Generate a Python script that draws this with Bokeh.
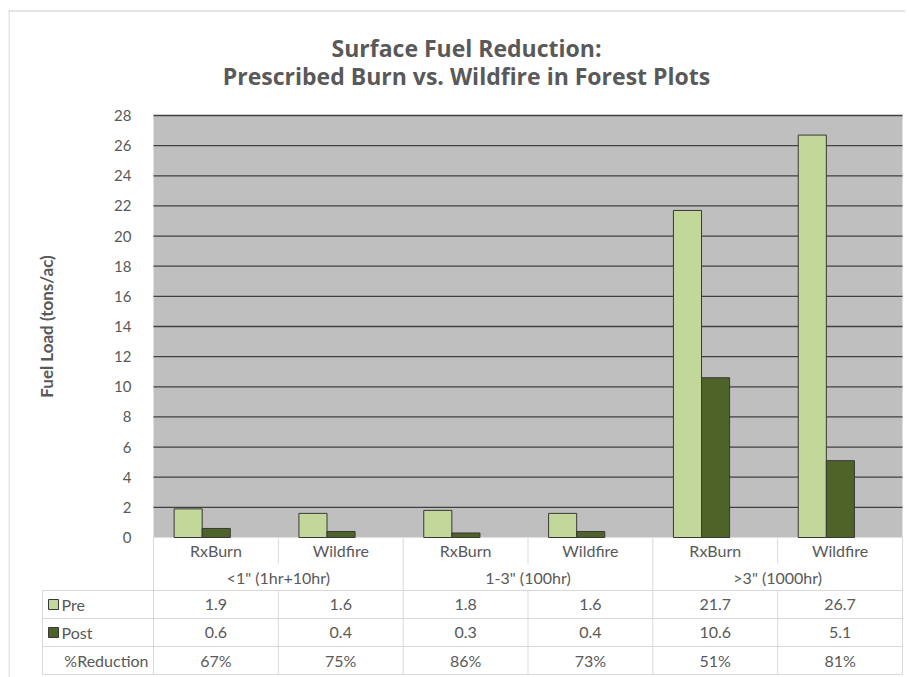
import math
from bokeh.plotting import figure
from bokeh.models import Range1d, FixedTicker
from bokeh.core.properties import value
from bokeh.embed import file_html
from bokeh.resources import INLINE

# ---------------- data ----------------
groups = ['<1" (1hr+10hr)', '1-3" (100hr)', '>3" (1000hr)']
treatments = ["RxBurn", "Wildfire"]
pre = [1.9, 1.6, 1.8, 1.6, 21.7, 26.7]
post = [0.6, 0.4, 0.3, 0.4, 10.6, 5.1]
reduction_pct = [67, 75, 86, 73, 51, 81]
y_ticks = [0, 2, 4, 6, 8, 10, 12, 14, 16, 18, 20, 22, 24, 26, 28]
title_lines = ["Surface Fuel Reduction:", "Prescribed Burn vs. Wildfire in Forest Plots"]
y_label = "Fuel Load (tons/ac)"
row_labels = ["Pre", "Post", "%Reduction"]

# ---------------- style ----------------
FONT = "Lato"
TFONT = "Open Sans"
TXT = "#595959"
PRE_C = "#c4d79b"
POST_C = "#4f6228"
EDGE = "#383838"
BG = "#bfbfbf"
GRID = "#404040"
TBL = "#d9d9d9"

n = len(pre)
cats = [t for g in groups for t in treatments]
ymax = y_ticks[-1]

# ---------------- page geometry (pixels) ----------------
W, H = 906, 677
U = (902 - 153) / n        # px per category
PX = (537 - 115) / ymax    # px per fuel unit


def xdat(page_x):
    return (page_x - 153) / U


def ydat(page_y):
    return (537 - page_y) / PX


p = figure(width=W, height=H, output_backend="svg", toolbar_location=None,
           x_range=Range1d(xdat(8), xdat(905)), y_range=Range1d(ydat(H), ydat(0)),
           x_axis_type=None, min_border_left=8, min_border_right=1,
           min_border_top=0, min_border_bottom=0)
p.outline_line_color = None
p.background_fill_color = "white"
p.border_fill_color = "white"
p.ygrid.visible = False

# chart outer border (left / top)
p.segment(x0=[xdat(8.5), xdat(8)], y0=[ydat(10), ydat(10.5)],
          x1=[xdat(8.5), xdat(905)], y1=[ydat(H), ydat(10.5)],
          line_color="#dcdcdc", line_width=1.5)

# plot area background + gridlines
p.quad(left=0, right=n, bottom=0, top=ymax, fill_color=BG, line_color=None, level="image")
p.segment(x0=0, y0=y_ticks[1:], x1=n, y1=y_ticks[1:], line_color=GRID, line_width=1.3,
          level="underlay")

# y axis pinned at the plot-area's left edge
ax = p.yaxis[0]
ax.fixed_location = 0
ax.ticker = FixedTicker(ticks=y_ticks)
ax.bounds = (0, ymax)
ax.axis_line_color = None
ax.major_tick_line_color = None
ax.minor_tick_line_color = None
ax.major_label_standoff = 16
ax.major_label_text_font = FONT
ax.major_label_text_font_size = "15px"
ax.major_label_text_color = TXT
ax.axis_label = y_label
ax.axis_label_text_font = FONT
ax.axis_label_text_font_size = "17px"
ax.axis_label_text_font_style = "bold"
ax.axis_label_text_color = TXT
ax.axis_label_standoff = 54

# bars
idx = list(range(n))
bw = 0.225
p.vbar(x=[i + 0.165 + bw / 2 for i in idx], width=bw, bottom=0, top=pre,
       fill_color=PRE_C, line_color=EDGE, line_width=1)
p.vbar(x=[i + 0.165 + 1.5 * bw for i in idx], width=bw, bottom=0, top=post,
       fill_color=POST_C, line_color=EDGE, line_width=1)

# title
p.text(x=[xdat(466)] * 2, y=[ydat(47), ydat(75)], text=title_lines,
       text_align="center", text_baseline="middle", text_font=value(TFONT),
       text_font_size="23px", text_font_style="bold", text_color=TXT)

# ---------------- data table ----------------
xl = xdat(42)
r_top, r1, r2, r3, r4, r5 = 537, 563, 590, 618, 646, 674
hy = [ydat(r) for r in (r2, r3, r4, r5)]
p.segment(x0=xl, y0=hy, x1=n, y1=hy, line_color=TBL, line_width=1)
gx = [0, 2, 4, 6]
p.segment(x0=gx, y0=ydat(r_top), x1=gx, y1=ydat(r5), line_color=TBL, line_width=1)
sx = [1, 3, 5]
p.segment(x0=sx, y0=ydat(r_top), x1=sx, y1=ydat(r1), line_color=TBL, line_width=1)
p.segment(x0=sx + [xl], y0=ydat(r2), x1=sx + [xl], y1=ydat(r5), line_color=TBL, line_width=1)

TS = "16px"
p.text(x=[i + 0.5 for i in idx], y=ydat((r_top + r1) / 2), text=cats, text_align="center",
       text_baseline="middle", text_font=value(FONT), text_font_size=TS, text_color=TXT)
p.text(x=[2 * g + 1 for g in range(len(groups))], y=ydat((r1 + r2) / 2), text=groups,
       text_align="center", text_baseline="middle", text_font=value(FONT),
       text_font_size=TS, text_color=TXT)

rows_y = [ydat((r2 + r3) / 2), ydat((r3 + r4) / 2), ydat((r4 + r5) / 2)]
p.rect(x=xdat(53), y=rows_y[:2], width=10, height=10, width_units="screen",
       height_units="screen", fill_color=[PRE_C, POST_C], line_color=EDGE, line_width=1)
p.text(x=xdat(61), y=rows_y[:2], text=row_labels[:2], text_align="left",
       text_baseline="middle", text_font=value(FONT), text_font_size=TS, text_color=TXT)
p.text(x=xdat(148), y=rows_y[2], text=[row_labels[2]], text_align="right",
       text_baseline="middle", text_font=value(FONT), text_font_size=TS, text_color=TXT)

fmt = lambda v: f"{v:.1f}"
table_rows = [list(map(fmt, pre)), list(map(fmt, post)), [f"{r}%" for r in reduction_pct]]
for vals, yy in zip(table_rows, rows_y):
    p.text(x=[i + 0.5 for i in idx], y=yy, text=vals, text_align="center",
           text_baseline="middle", text_font=value(FONT), text_font_size=TS,
           text_color=TXT)

open("out.html", "w").write(file_html(p, INLINE))
